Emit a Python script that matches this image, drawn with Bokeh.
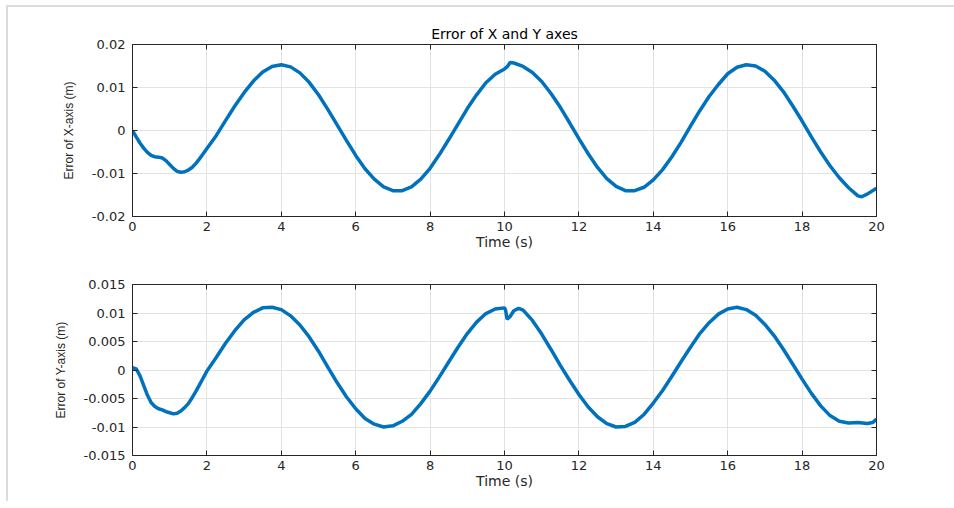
from bokeh.plotting import figure
from bokeh.layouts import column
from bokeh.models import LinearAxis, Range1d, FixedTicker, CustomJSTickFormatter
from bokeh.embed import file_html
from bokeh.resources import INLINE

# ---- data: tracking error along X (m) ----
t_x = [0.0, 0.1, 0.2, 0.3, 0.4, 0.5, 0.6, 0.7, 0.8, 0.9, 1.0, 1.1, 1.2, 1.3,
       1.4, 1.5, 1.6, 1.7, 1.8, 1.9, 2.0, 2.25, 2.5, 2.75,
       3.0, 3.25, 3.5, 3.75, 4.0, 4.25, 4.5, 4.75, 5.0, 5.25, 5.5, 5.75,
       6.0, 6.25, 6.5, 6.75, 7.0, 7.25, 7.5, 7.75, 8.0, 8.25, 8.5, 8.75,
       9.0, 9.25, 9.5, 9.75, 10.0, 10.08, 10.15, 10.25, 10.5, 10.75,
       11.0, 11.25, 11.5, 11.75, 12.0, 12.25, 12.5, 12.75, 13.0, 13.25,
       13.5, 13.75, 14.0, 14.25, 14.5, 14.75, 15.0, 15.25, 15.5, 15.75,
       16.0, 16.25, 16.5, 16.75, 17.0, 17.25, 17.5, 17.75, 18.0, 18.25,
       18.5, 18.75, 19.0, 19.25, 19.5, 19.6, 19.75, 20.0]
err_x = [0.0, -0.0015, -0.0029, -0.0041, -0.0051, -0.0058, -0.0061, -0.0062,
         -0.0064, -0.0070, -0.0079, -0.0088, -0.0095, -0.0097, -0.0096, -0.0092,
         -0.0086, -0.0077, -0.0066, -0.0054, -0.0042, -0.0012, 0.0023, 0.0057,
         0.0088, 0.0115, 0.0136, 0.0149, 0.0153, 0.0148, 0.0134, 0.0112,
         0.0083, 0.0049, 0.0013, -0.0023, -0.0058, -0.0089, -0.0113, -0.0131,
         -0.0140, -0.0140, -0.0131, -0.0113, -0.0088, -0.0056, -0.0021, 0.0015,
         0.0051, 0.0083, 0.0111, 0.0131, 0.0143, 0.0149, 0.0158, 0.0157,
         0.0149, 0.0135, 0.0114, 0.0086, 0.0054, 0.0018, -0.0019, -0.0054,
         -0.0086, -0.0112, -0.0130, -0.0140, -0.0140, -0.0132, -0.0115, -0.0091,
         -0.0061, -0.0027, 0.0010, 0.0046, 0.0079, 0.0107, 0.0132, 0.0147,
         0.0153, 0.0150, 0.0138, 0.0117, 0.0090, 0.0057, 0.0022, -0.0015,
         -0.0050, -0.0082, -0.0110, -0.0133, -0.0152, -0.0154, -0.0148, -0.0134]

# ---- data: tracking error along Y (m) ----
t_y = [0.0, 0.1, 0.2, 0.3, 0.4, 0.5, 0.6, 0.7, 0.8, 0.9, 1.0, 1.1, 1.2, 1.3,
       1.4, 1.5, 1.6, 1.7, 1.8, 1.9, 2.0, 2.25,
       2.5, 2.75, 3.0, 3.25, 3.5, 3.75, 4.0, 4.25, 4.5, 4.75, 5.0, 5.25,
       5.5, 5.75, 6.0, 6.25, 6.5, 6.75, 7.0, 7.25, 7.5, 7.75, 8.0, 8.25,
       8.5, 8.75, 9.0, 9.25, 9.5, 9.75, 10.0, 10.03, 10.07, 10.15, 10.25,
       10.38, 10.5, 10.75, 11.0, 11.25, 11.5, 11.75, 12.0, 12.25, 12.5,
       12.75, 13.0, 13.25, 13.5, 13.75, 14.0, 14.25, 14.5, 14.75, 15.0,
       15.25, 15.5, 15.75, 16.0, 16.25, 16.5, 16.75, 17.0, 17.25, 17.5,
       17.75, 18.0, 18.25, 18.5, 18.75, 19.0, 19.25, 19.5, 19.75, 19.9, 20.0]
err_y = [0.0004, 0.0002, -0.0010, -0.0027, -0.0044, -0.0057, -0.0064, -0.0068,
         -0.0070, -0.0073, -0.0075, -0.0077, -0.0076, -0.0072, -0.0066, -0.0059,
         -0.0049, -0.0038, -0.0026, -0.0014, -0.0002, 0.0022,
         0.0047, 0.0069, 0.0088, 0.0101, 0.0109, 0.0110, 0.0106, 0.0095,
         0.0079, 0.0058, 0.0033, 0.0005, -0.0022, -0.0047, -0.0068, -0.0085,
         -0.0095, -0.0100, -0.0098, -0.0090, -0.0078, -0.0059, -0.0037, -0.0012,
         0.0014, 0.0040, 0.0064, 0.0084, 0.0099, 0.0107, 0.0109, 0.0105,
         0.0089, 0.0094, 0.0104, 0.0108, 0.0105, 0.0087, 0.0063, 0.0036,
         0.0008, -0.0018, -0.0043, -0.0065, -0.0082, -0.0094, -0.0100, -0.0099,
         -0.0092, -0.0078, -0.0058, -0.0036, -0.0011, 0.0015, 0.0040, 0.0064,
         0.0083, 0.0098, 0.0107, 0.0110, 0.0106, 0.0096, 0.0080, 0.0060,
         0.0036, 0.0010, -0.0016, -0.0041, -0.0063, -0.0080, -0.0090, -0.0093,
         -0.0092, -0.0094, -0.0092, -0.0086]

# ---- tick positions ----
time_ticks = [0, 2, 4, 6, 8, 10, 12, 14, 16, 18, 20]
x_err_ticks = [-0.02, -0.01, 0, 0.01, 0.02]
y_err_ticks = [-0.015, -0.01, -0.005, 0, 0.005, 0.01, 0.015]

LINE_COLOR = "#0072BD"
AXIS_COLOR = "#262626"
GRID_COLOR = "#e3e3e3"
TICK_FONT = "DejaVu Sans"
LABEL_FONT = "Liberation Sans"

num_fmt = CustomJSTickFormatter(code="return String(Number(tick.toFixed(4)));")


def style_panel(p, yticks, ylabel):
    p.xaxis.ticker = FixedTicker(ticks=time_ticks)
    p.yaxis.ticker = FixedTicker(ticks=yticks)
    p.yaxis.formatter = num_fmt
    p.xaxis.axis_label = "Time (s)"
    p.yaxis.axis_label = ylabel
    for ax in (p.xaxis[0], p.yaxis[0]):
        ax.axis_line_color = AXIS_COLOR
        ax.major_tick_line_color = AXIS_COLOR
        ax.major_tick_in = 5
        ax.major_tick_out = 0
        ax.minor_tick_line_color = None
        ax.major_label_text_color = AXIS_COLOR
        ax.major_label_text_font = TICK_FONT
        ax.major_label_text_font_size = "13px"
        ax.axis_label_text_color = AXIS_COLOR
        ax.axis_label_text_font_style = "normal"
    p.xaxis.major_label_standoff = 5
    p.xaxis.axis_label_standoff = 0
    p.xaxis.axis_label_text_font = TICK_FONT
    p.xaxis.axis_label_text_font_size = "14px"
    p.yaxis.major_label_standoff = 7
    p.yaxis.axis_label_standoff = 13
    p.yaxis.axis_label_text_font = LABEL_FONT
    p.yaxis.axis_label_text_font_size = "12px"

    # closing box: top and right axes carry inward ticks only, no labels
    top = LinearAxis(ticker=FixedTicker(ticks=time_ticks))
    right = LinearAxis(ticker=FixedTicker(ticks=yticks))
    for ax in (top, right):
        ax.axis_line_color = AXIS_COLOR
        ax.major_tick_line_color = AXIS_COLOR
        ax.major_tick_in = 5
        ax.major_tick_out = 0
        ax.minor_tick_line_color = None
        ax.major_label_text_color = None
        ax.major_label_text_font_size = "1px"
        ax.major_label_standoff = 0
    p.add_layout(top, "above")
    p.add_layout(right, "right")

    p.grid.grid_line_color = GRID_COLOR
    p.grid.grid_line_width = 1
    p.outline_line_color = None
    p.background_fill_color = "white"
    p.border_fill_color = "white"


p1 = figure(width=946, height=255, x_range=Range1d(0, 20), y_range=Range1d(-0.02, 0.02),
            output_backend="svg", toolbar_location=None,
            min_border_left=124, min_border_right=78, min_border_top=37, min_border_bottom=46)
p1.title.text = "Error of X and Y axes"
p1.title.align = "center"
p1.title.text_font = TICK_FONT
p1.title.text_font_size = "14px"
p1.title.text_font_style = "normal"
p1.title.text_color = "#000000"
p1.title.standoff = 5
style_panel(p1, x_err_ticks, "Error of X-axis (m)")
p1.line(t_x, err_x, line_color=LINE_COLOR, line_width=3.5)

p2 = figure(width=946, height=239, x_range=Range1d(0, 20), y_range=Range1d(-0.015, 0.015),
            output_backend="svg", toolbar_location=None,
            min_border_left=124, min_border_right=78, min_border_top=22, min_border_bottom=46)
style_panel(p2, y_err_ticks, "Error of Y-axis (m)")
p2.line(t_y, err_y, line_color=LINE_COLOR, line_width=3.5)

layout = column(p1, p2, spacing=0, margin=(5, 0, 0, 6),
                styles={"border-top": "2px solid #dcdcdc", "border-left": "2px solid #dcdcdc",
                        "background": "white"})

open("out.html", "w").write(file_html(layout, INLINE))
